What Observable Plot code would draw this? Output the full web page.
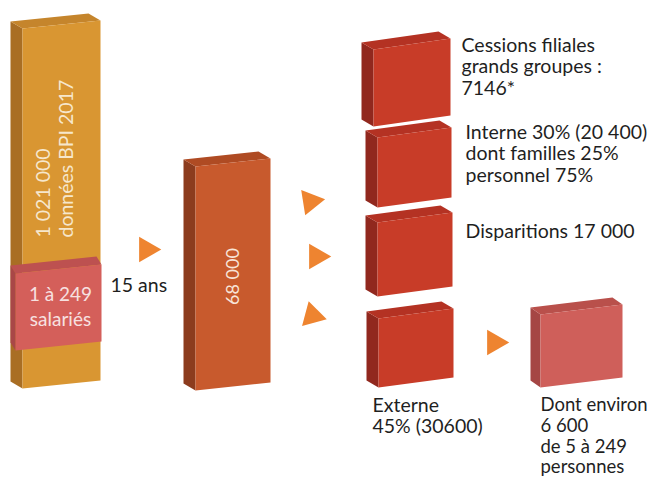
<!DOCTYPE html>
<html>
<head>
<meta charset="utf-8">
<script src="https://cdn.jsdelivr.net/npm/d3@7"></script>
<script src="https://cdn.jsdelivr.net/npm/@observablehq/plot@0.6"></script>
<style>
  html, body { margin: 0; padding: 0; background: #fff; }
  #chart svg { display: block; }
</style>
</head>
<body>
<div id="chart"></div>
<script>
// ---- Data (values & texts) ----
const boxNames   = ["entreprises", "salaries", "transmissions", "cessions", "interne", "disparitions", "externe", "pme"];
const boxValues  = [1021000, null, 68000, 7146, 20400, 17000, 30600, 6600];
const boxInnerText = [
  "1 021 000\ndonnées BPI 2017",
  "1 à 249\nsalariés",
  "68 000",
  "", "", "", "", ""
];
const outerLabels = [
  "15 ans",
  "Cessions filiales\ngrands groupes :\n7146*",
  "Interne 30% (20 400)\ndont familles 25%\npersonnel 75%",
  "Disparitions 17 000",
  "Externe\n45% (30600)",
  "Dont environ\n6 600\nde 5 à 249\npersonnes"
];

// ---- Layout (positions / sizes / styles, separate from data) ----
const boxLayout = {
  entreprises:   {x0: 22,  x1: 100, yT: 28,  yB: 388, s: 8,  dx: 12, dy: 7, front: "#D99632", side: "#A96E24", top: "#C5852C"},
  salaries:      {x0: 15,  x1: 101, yT: 273, yB: 350, s: 9,  dx: 5,  dy: 8, front: "#D45F5A", side: "#A94747", top: "#BD5150"},
  transmissions: {x0: 195, x1: 270, yT: 166, yB: 390, s: 8,  dx: 12, dy: 7, front: "#C85A2D", side: "#8C3C1E", top: "#AF4B23"},
  cessions:      {x0: 373, x1: 450, yT: 49,  yB: 126, s: 11, dx: 12, dy: 7, front: "#C83C28", side: "#91281E", top: "#B43223"},
  interne:       {x0: 377, x1: 451, yT: 137, yB: 207, s: 10, dx: 12, dy: 7, front: "#C83C28", side: "#91281E", top: "#B43223"},
  disparitions:  {x0: 377, x1: 452, yT: 222, yB: 296, s: 10, dx: 12, dy: 7, front: "#C83C28", side: "#91281E", top: "#B43223"},
  externe:       {x0: 378, x1: 453, yT: 318, yB: 387, s: 10, dx: 12, dy: 7, front: "#C83C28", side: "#91281E", top: "#B43223"},
  pme:           {x0: 540, x1: 622, yT: 314, yB: 387, s: 10, dx: 10, dy: 7, front: "#CF5F5A", side: "#A54644", top: "#B9504B"}
};
const arrowLayout = [
  {x: 146, y: 249, angle: 90},
  {x: 310, y: 201, angle: 81},
  {x: 316, y: 256, angle: 90},
  {x: 312, y: 315, angle: 105},
  {x: 494, y: 342, angle: 90}
];
const innerTextLayout = [
  {x: 54,  y: 237, rotate: -90, anchor: "start",  size: 19.5, lh: 1.18, fill: "#F6E7CC"},
  {x: 60,  y: 305, rotate: 0,   anchor: "middle", size: 19, lh: 1.33, fill: "#F7E1E0"},
  {x: 232, y: 276, rotate: -90, anchor: "middle", size: 18, lh: 1.2, fill: "#F8E4D8"}
];
const outerLayout = [
  {x: 110, y: 276, lh: 1.1,  size: 19.5},
  {x: 461, y: 36,  lh: 1.1,  size: 19.5},
  {x: 465, y: 123, lh: 1.1,  size: 19.5},
  {x: 465, y: 222, lh: 1.1,  size: 19.5},
  {x: 372, y: 396, lh: 1.1,  size: 19.5},
  {x: 540, y: 396, lh: 1.12, size: 18.5}
];

// ---- Build face polygons from boxes ----
const polys = [];
boxNames.forEach((name, i) => {
  const b = boxLayout[name];
  const faces = [
    ["side", b.side, [[b.x0 - b.dx, b.yT - b.dy], [b.x0, b.yT], [b.x0, b.yB], [b.x0 - b.dx, b.yB - b.dy]]],
    ["top", b.top, [[b.x0 - b.dx, b.yT - b.dy], [b.x1 - b.dx, b.yT - b.s - b.dy], [b.x1, b.yT - b.s], [b.x0, b.yT]]],
    ["front", b.front, [[b.x0, b.yT], [b.x1, b.yT - b.s], [b.x1, b.yB - b.s], [b.x0, b.yB]]]
  ];
  faces.forEach(([face, color, pts]) => {
    const id = name + "-" + face;
    [...pts, pts[0]].forEach(([x, y]) => polys.push({id, x, y, color, value: boxValues[i]}));
  });
});

const innerTexts = innerTextLayout.map((l, i) => ({...l, text: boxInnerText[i]}));
const outerTexts = outerLayout.map((l, i) => ({...l, text: outerLabels[i]}));

const textMarks = [];
innerTexts.forEach(t => textMarks.push(
  Plot.text([t], {x: "x", y: "y", text: "text", rotate: t.rotate, textAnchor: t.anchor,
    lineAnchor: "middle", lineHeight: t.lh, fontSize: t.size, fill: t.fill,
    fontFamily: "Lato, 'Open Sans', sans-serif"})
));
outerTexts.forEach(t => textMarks.push(
  Plot.text([t], {x: "x", y: "y", text: "text", textAnchor: "start", lineAnchor: "top",
    lineHeight: t.lh, fontSize: t.size, fill: "#1f1f1f",
    fontFamily: "Lato, 'Open Sans', sans-serif"})
));

const chart = Plot.plot({
  width: 653,
  height: 478,
  margin: 0,
  x: {domain: [0, 653], range: [0, 653], axis: null},
  y: {domain: [0, 478], range: [0, 478], axis: null},
  color: {type: "identity"},
  marks: [
    Plot.line(polys, {x: "x", y: "y", z: "id", fill: "color", stroke: "none", curve: "linear"}),
    Plot.dot(arrowLayout, {x: "x", y: "y", symbol: "triangle", r: 9.5, rotate: "angle", fill: "#EE8430", stroke: "none"}),
    ...textMarks
  ]
});
document.getElementById("chart").appendChild(chart);
</script>
</body>
</html>
